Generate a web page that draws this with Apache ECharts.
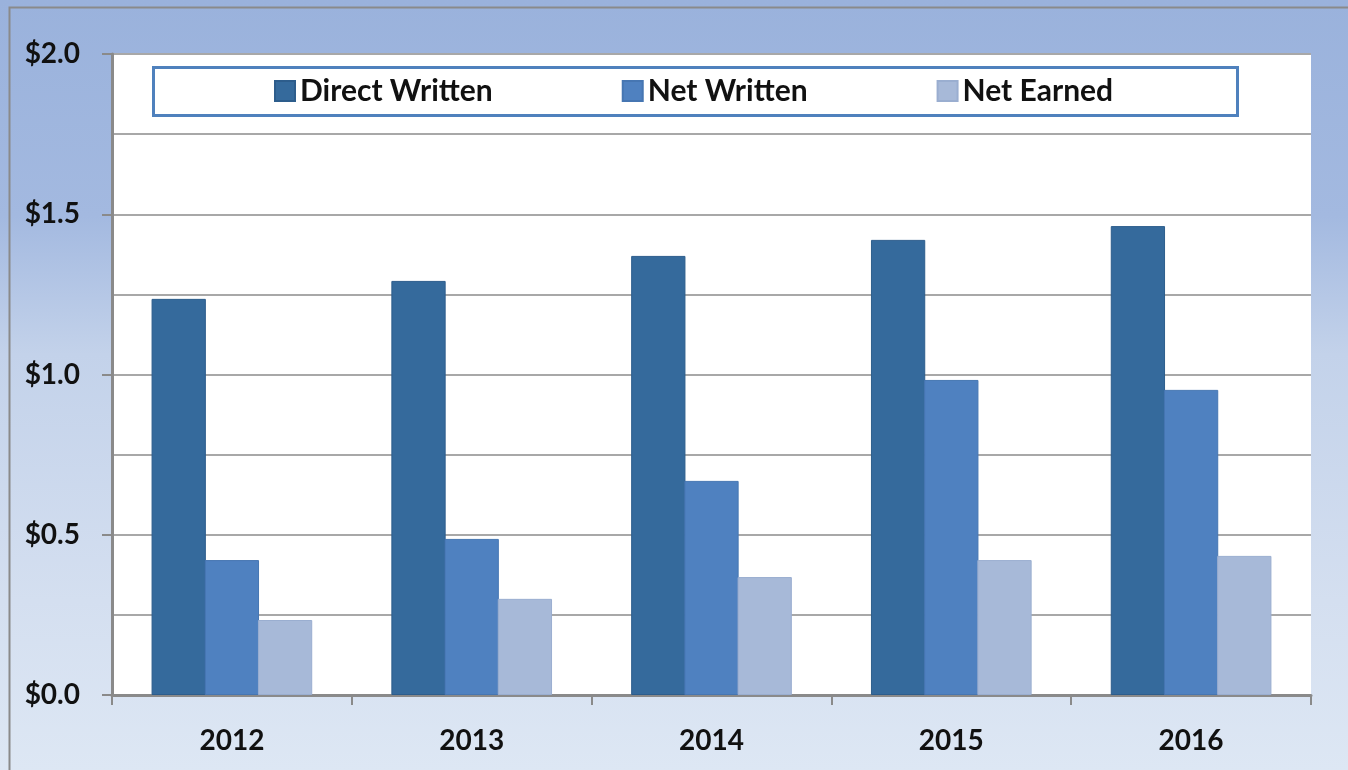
<!DOCTYPE html>
<html>
<head>
<meta charset="utf-8">
<script src="https://cdn.jsdelivr.net/npm/echarts@6/dist/echarts.min.js"></script>
<style>
  html, body { margin: 0; padding: 0; background: #fff; }
  #main { width: 1348px; height: 770px; }
</style>
</head>
<body>
<div id="main"></div>
<script>
var years = ['2012', '2013', '2014', '2015', '2016'];
var directWritten = [1.236, 1.292, 1.37, 1.42, 1.463];
var netWritten = [0.421, 0.487, 0.668, 0.983, 0.952];
var netEarned = [0.234, 0.30, 0.368, 0.421, 0.434];

var myChart = echarts.init(document.getElementById('main'));

var labelFont = 'Lato, "Open Sans", sans-serif';

option = {
    backgroundColor: {
        type: 'linear', x: 0, y: 0, x2: 0, y2: 1,
        colorStops: [
            { offset: 0, color: '#9ab2dc' },
            { offset: 0.28, color: '#a3b9e0' },
            { offset: 0.46, color: '#c3d2ea' },
            { offset: 0.78, color: '#d4dff0' },
            { offset: 1, color: '#dde7f4' }
        ]
    },
    graphic: [
        {
            type: 'rect',
            left: 7, top: 5,
            shape: { width: 1345, height: 770 },
            style: { fill: 'none', stroke: '#8a8a8a', lineWidth: 2 },
            z: 0
        },
        {
            type: 'rect',
            left: 152, top: 66,
            shape: { width: 1084, height: 48 },
            style: { fill: '#fff', stroke: '#4f81bd', lineWidth: 3 },
            z: 5
        }
    ],
    legend: {
        left: 269,
        top: 71,
        itemWidth: 20,
        itemHeight: 20,
        itemGap: 129,
        icon: 'rect',
        z: 10,
        textStyle: {
            fontFamily: labelFont,
            fontWeight: 'bold',
            fontSize: 30,
            color: '#111'
        },
        data: ['Direct Written', 'Net Written', 'Net Earned']
    },
    grid: {
        left: 112,
        top: 54,
        right: 37,
        bottom: 75,
        show: true,
        backgroundColor: '#fff',
        borderWidth: 0
    },
    xAxis: {
        type: 'category',
        data: years,
        axisLine: { lineStyle: { color: '#8a8a8a', width: 3 } },
        axisTick: { show: true, length: 10, lineStyle: { color: '#8a8a8a', width: 2 } },
        axisLabel: {
            margin: 32,
            fontFamily: labelFont,
            fontWeight: 'bold',
            fontSize: 28,
            color: '#111'
        }
    },
    yAxis: {
        type: 'value',
        min: 0,
        max: 2,
        interval: 0.5,
        axisLine: { show: true, lineStyle: { color: '#8a8a8a', width: 3 } },
        axisTick: { show: true, length: 10, lineStyle: { color: '#8a8a8a', width: 2 } },
        axisLabel: {
            margin: 32,
            fontFamily: labelFont,
            fontWeight: 'bold',
            fontSize: 28,
            color: '#111',
            formatter: function (v) { return '$' + v.toFixed(1); }
        },
        splitLine: { show: true, lineStyle: { color: '#a8a8a8', width: 2 } },
        minorTick: { show: false, splitNumber: 2 },
        minorSplitLine: { show: true, lineStyle: { color: '#a8a8a8', width: 2 } }
    },
    series: [
        {
            name: 'Direct Written',
            type: 'bar',
            data: directWritten,
            barGap: '-2%',
            barCategoryGap: '33%',
            itemStyle: { color: '#356a9c', borderColor: '#2d5d8c', borderWidth: 1 }
        },
        {
            name: 'Net Written',
            type: 'bar',
            data: netWritten,
            barGap: '-2%',
            barCategoryGap: '33%',
            itemStyle: { color: '#4f81c0', borderColor: '#4676b2', borderWidth: 1 }
        },
        {
            name: 'Net Earned',
            type: 'bar',
            data: netEarned,
            barGap: '-2%',
            barCategoryGap: '33%',
            itemStyle: { color: '#a7b9d8', borderColor: '#9aaed0', borderWidth: 1 }
        }
    ]
};
myChart.setOption(option);
</script>
</body>
</html>
